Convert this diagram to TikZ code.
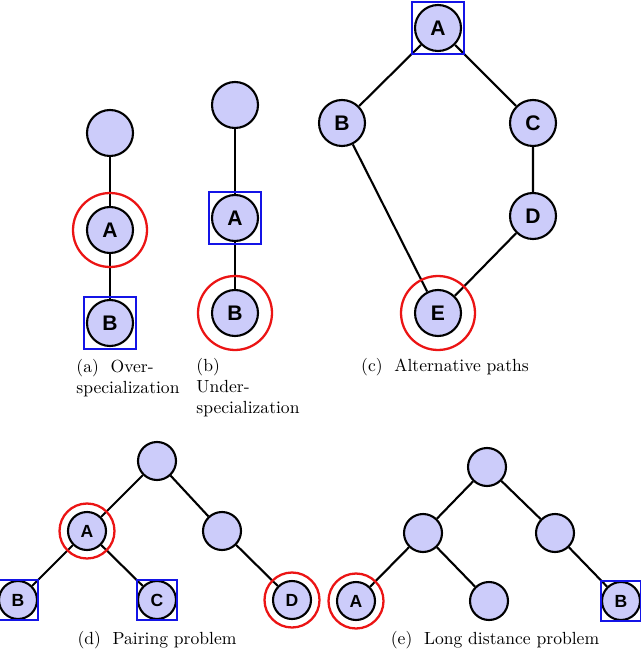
\documentclass[tikz,border=0pt]{standalone}
\usepackage{fontspec}
\newfontfamily\nodefont{Liberation Sans}
\definecolor{nodeblue}{RGB}{204,204,250}
\definecolor{ringred}{RGB}{235,20,20}
\definecolor{boxblue}{RGB}{20,20,230}
\tikzset{
  vtx/.style={circle,draw=black,line width=1.2pt,fill=nodeblue,minimum size=0.92cm,inner sep=0pt,font=\nodefont\bfseries\large},
  svtx/.style={vtx,minimum size=0.76cm,font=\nodefont\bfseries},
  ring/.style={circle,draw=ringred,line width=1.3pt,minimum size=1.48cm,inner sep=0pt},
  sring/.style={ring,minimum size=1.1cm},
  box/.style={rectangle,draw=boxblue,line width=1.3pt,minimum size=1.04cm,inner sep=0pt},
  sbox/.style={box,minimum size=0.8cm},
  edge/.style={line width=1.2pt},
  caption/.style={font=\normalsize,align=left}
}
\begin{document}
\begin{tikzpicture}[x=0.02cm,y=-0.02cm]
\useasboundingbox (0,0) rectangle (640,651);

% (a)
\node[vtx] (a0) at (110,133) {};
\node[vtx] (aA) at (110,230) {A};
\node[vtx] (aB) at (110,323) {B};
\draw[edge] (a0) -- (aA) (aA) -- (aB);
\node[ring] at (aA) {};
\node[box] at (aB) {};
\node[caption] (capa) at (128,378) {(a)\ \ Over-\\specialization};

% (b)
\node[vtx] (b0) at (235,105) {};
\node[vtx] (bA) at (235,218) {A};
\node[vtx] (bB) at (235,313) {B};
\draw[edge] (b0) -- (bA) (bA) -- (bB);
\node[box] at (bA) {};
\node[ring] at (bB) {};
\node[caption] (capb) at (248,388) {(b)\\Under-\\specialization};

% (c)
\node[vtx] (cA) at (438,28) {A};
\node[vtx] (cB) at (342,123) {B};
\node[vtx] (cC) at (533,123) {C};
\node[vtx] (cD) at (533,216) {D};
\node[vtx] (cE) at (438,313) {E};
\draw[edge] (cA) -- (cB) (cA) -- (cC) (cC) -- (cD) (cD) -- (cE) (cB) -- (cE);
\node[box] at (cA) {};
\node[ring] at (cE) {};
\node[caption] (capc) at (445,367) {(c)\ \ Alternative paths};

% (d)
\node[svtx] (d0) at (157,461) {};
\node[svtx] (dA) at (87,531) {A};
\node[svtx] (d1) at (222,531) {};
\node[svtx] (dB) at (18,600) {B};
\node[svtx] (dC) at (157,600) {C};
\node[svtx] (dD) at (292,600) {D};
\draw[edge] (d0) -- (dA) (d0) -- (d1) (dA) -- (dB) (dA) -- (dC) (d1) -- (dD);
\node[sring] at (dA) {};
\node[sring] at (dD) {};
\node[sbox] at (dB) {};
\node[sbox] at (dC) {};
\node[caption] (capd) at (157,640) {(d)\ \ Pairing problem};

% (e)
\node[svtx] (e0) at (487,467) {};
\node[svtx] (e1) at (423,533) {};
\node[svtx] (e2) at (555,533) {};
\node[svtx] (eA) at (356,601) {A};
\node[svtx] (e3) at (489,601) {};
\node[svtx] (eB) at (621,601) {B};
\draw[edge] (e0) -- (e1) (e0) -- (e2) (e1) -- (eA) (e1) -- (e3) (e2) -- (eB);
\node[sring] at (eA) {};
\node[sbox] at (eB) {};
\node[caption] (cape) at (495,640) {(e)\ \ Long distance problem};
\end{tikzpicture}
\end{document}
